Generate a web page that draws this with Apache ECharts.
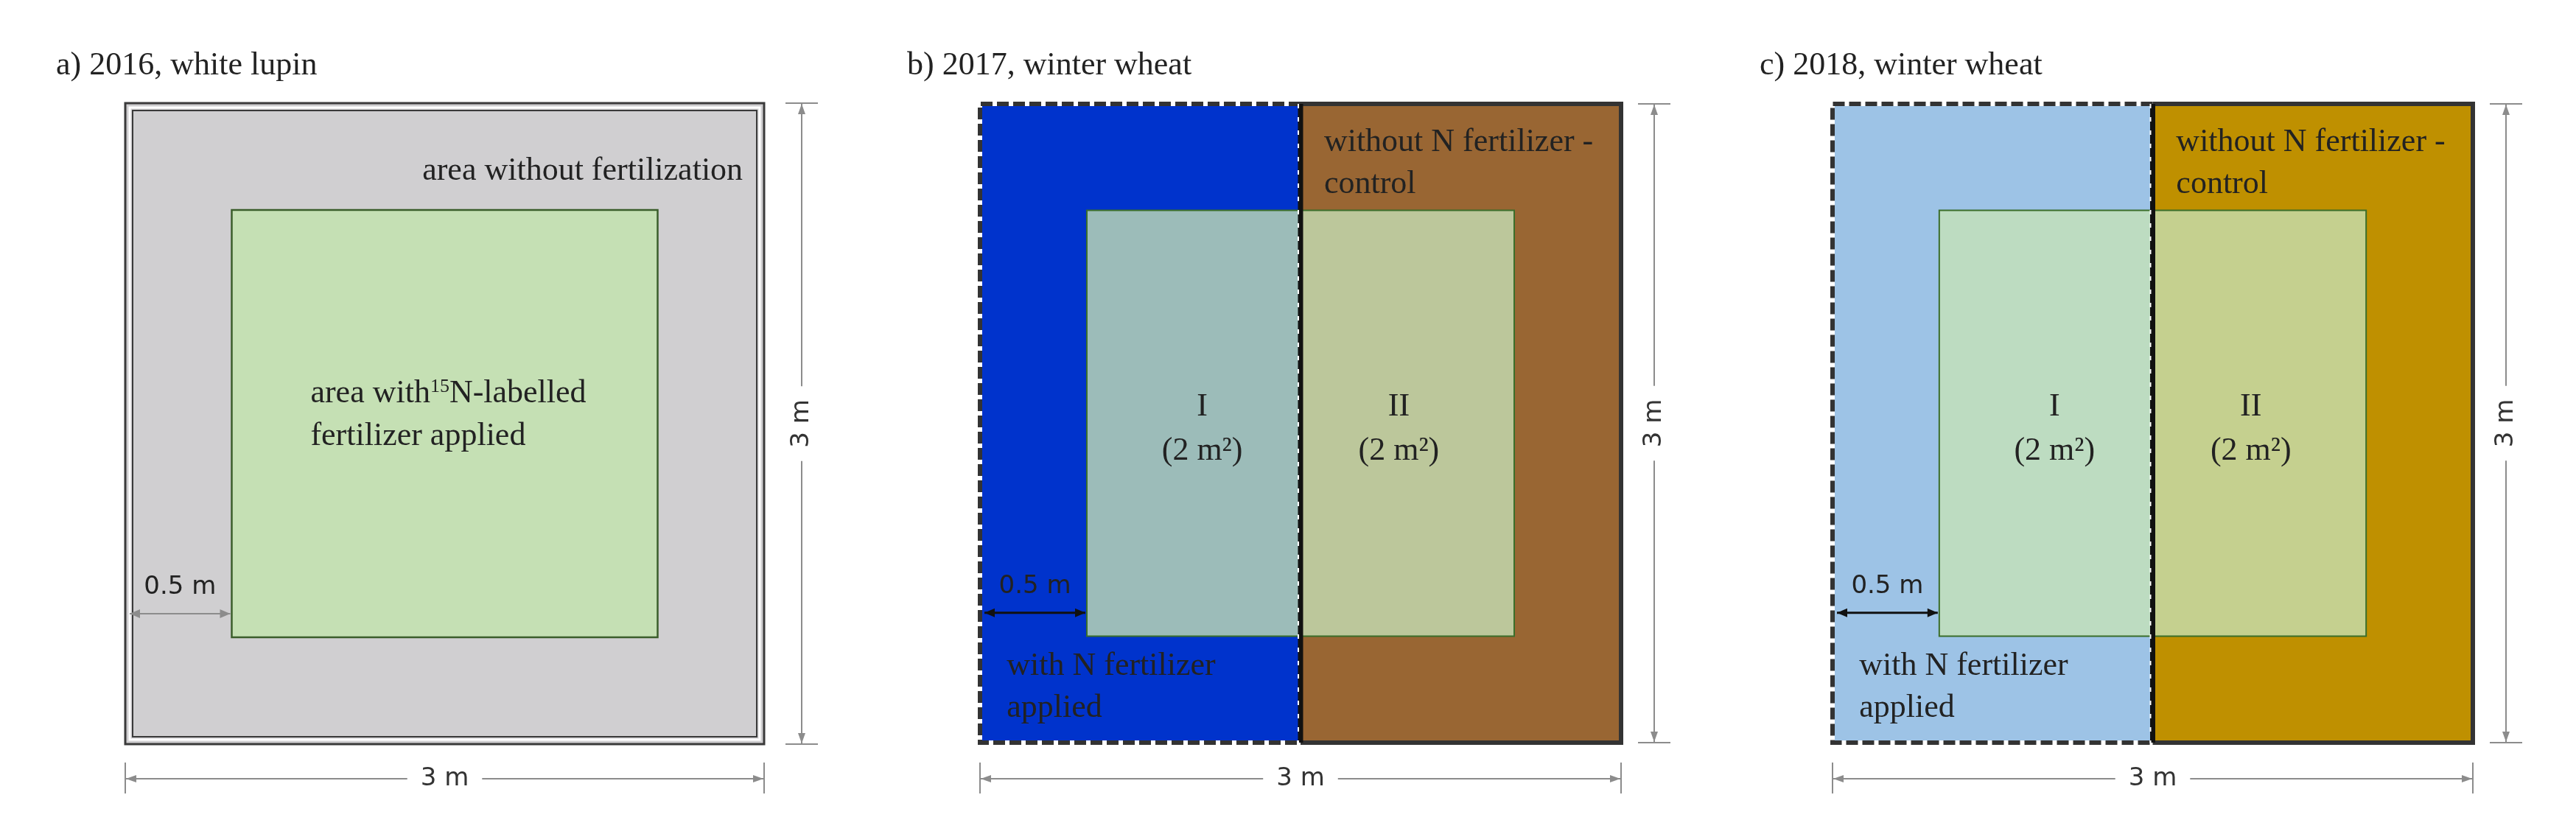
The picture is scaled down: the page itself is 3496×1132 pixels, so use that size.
<!DOCTYPE html>
<html><head><meta charset="utf-8">
<script src="https://cdn.jsdelivr.net/npm/echarts@6/dist/echarts.min.js"></script>
<style>html,body{margin:0;background:#fff}#c{width:3496px;height:1132px}</style>
</head><body><div id="c"></div>
<script>
// plot extents in metres
const plotSize = [0, 3];
const innerPlot = [0.5, 0.5, 2.5, 2.5];
const halfSplit = 1.5;
const titles = ['a) 2016, white lupin', 'b) 2017, winter wheat', 'c) 2018, winter wheat'];
const subplotNames = ['I', 'II'];
const subplotArea = '(2 m²)';
const edgeLabel = '0.5 m';
const dimLabel = '3 m';
const panelColors = [
  {outer:'#d0cfd1', inner:'#c5e0b4'},
  {left:'#0033cc', right:'#996633', I:'#9cbcb9', II:'#bcc79b'},
  {left:'#9dc3e6', right:'#bf9000', I:'#bddcc1', II:'#c5d08f'}
];
const grids = [
  {left:170, top:140, width:867, height:870, dimX:1088},
  {left:1330, top:141, width:870, height:867, dimX:2245},
  {left:2487, top:141, width:869, height:867, dimX:3401}
];
const titleX = [71, 1226, 2383];
const FS = 44;

const chart = echarts.init(document.getElementById('c'));
const serif = 'Liberation Serif';
function txt(api, x, y, s, align, size, extra) {
  const p = api.coord([x, y]);
  return {type:'text', x:p[0], y:p[1], style:Object.assign({text:s, fill:'#222', font:(size||FS)+'px "'+serif+'"', align:align||'left', verticalAlign:'middle'}, extra||{}), z2:20};
}
function rect(api, x0, y0, x1, y1, style) {
  const a = api.coord([x0, y1]), b = api.coord([x1, y0]);
  return {type:'rect', shape:{x:a[0], y:a[1], width:b[0]-a[0], height:b[1]-a[1]}, style:style};
}
function line(api, x0, y0, x1, y1, style, z) {
  const a = api.coord([x0, y0]), b = api.coord([x1, y1]);
  return {type:'line', shape:{x1:a[0], y1:a[1], x2:b[0], y2:b[1]}, style:style, z2:z||5};
}
function arrowHead(x, y, dir, col, len, w) {
  let pts;
  if (dir==='l') pts=[[x,y],[x+len,y-w],[x+len,y+w]];
  if (dir==='r') pts=[[x,y],[x-len,y-w],[x-len,y+w]];
  if (dir==='u') pts=[[x,y],[x-w,y+len],[x+w,y+len]];
  if (dir==='d') pts=[[x,y],[x-w,y-len],[x+w,y-len]];
  return {type:'polygon', shape:{points:pts}, style:{fill:col}, z2:6};
}
const dimCol = '#8c8c8c';
function dims(api, gi, elems) {
  const g = grids[gi];
  const L = api.coord([0,0]), R = api.coord([3,3]);
  const yH = 1057;
  const ds = {stroke:dimCol, lineWidth:2};
  elems.push({type:'line', shape:{x1:L[0], y1:yH, x2:R[0], y2:yH}, style:ds});
  elems.push({type:'line', shape:{x1:L[0], y1:yH-22, x2:L[0], y2:yH+20}, style:ds});
  elems.push({type:'line', shape:{x1:R[0], y1:yH-22, x2:R[0], y2:yH+20}, style:ds});
  elems.push(arrowHead(L[0]+1, yH, 'l', dimCol, 14, 5));
  elems.push(arrowHead(R[0]-1, yH, 'r', dimCol, 14, 5));
  elems.push({type:'text', x:(L[0]+R[0])/2, y:yH, style:{text:dimLabel, font:'34px "DejaVu Sans"', fill:'#333', align:'center', verticalAlign:'middle', backgroundColor:'#fff', padding:[0,18]}, z2:10});
  const x = g.dimX;
  elems.push({type:'line', shape:{x1:x, y1:R[1], x2:x, y2:L[1]}, style:ds});
  elems.push({type:'line', shape:{x1:x-22, y1:R[1], x2:x+22, y2:R[1]}, style:ds});
  elems.push({type:'line', shape:{x1:x-22, y1:L[1], x2:x+22, y2:L[1]}, style:ds});
  elems.push(arrowHead(x, R[1]+1, 'u', dimCol, 14, 5));
  elems.push(arrowHead(x, L[1]-1, 'd', dimCol, 14, 5));
  elems.push({type:'text', x:x, y:(L[1]+R[1])/2, rotation:Math.PI/2, style:{text:dimLabel, font:'34px "DejaVu Sans"', fill:'#333', align:'center', verticalAlign:'middle', backgroundColor:'#fff', padding:[0,18]}, z2:10});
  const yE = 0.61;
  const a = api.coord([0, yE]), b = api.coord([innerPlot[0], yE]);
  const ec = gi===0 ? dimCol : '#111';
  elems.push({type:'line', shape:{x1:a[0]+6, y1:a[1], x2:b[0]-2, y2:a[1]}, style:{stroke:ec, lineWidth:gi===0?2:3}, z2:8});
  elems.push(arrowHead(a[0]+6, a[1], 'l', ec, 14, 6));
  elems.push(arrowHead(b[0]-2, a[1], 'r', ec, 14, 6));
  elems.push({type:'text', x:(a[0]+b[0])/2+2, y:a[1]-36, style:{text:edgeLabel, font:'34px "DejaVu Sans"', fill:'#222', align:'center', verticalAlign:'middle'}, z2:10});
}
function renderA(params, api) {
  const e = [], c = panelColors[0];
  e.push(rect(api, 0, 0, 3, 3, {fill:c.outer, stroke:'#3a3a3a', lineWidth:3}));
  const a = api.coord([0,3]), b = api.coord([3,0]);
  e.push({type:'rect', shape:{x:a[0]+6, y:a[1]+6, width:b[0]-a[0]-12, height:b[1]-a[1]-12}, style:{fill:'none', stroke:'#fff', lineWidth:3}});
  e.push({type:'rect', shape:{x:a[0]+10, y:a[1]+10, width:b[0]-a[0]-20, height:b[1]-a[1]-20}, style:{fill:'none', stroke:'#3a3a3a', lineWidth:2}});
  e.push(rect(api, innerPlot[0], innerPlot[1], innerPlot[2], innerPlot[3], {fill:c.inner, stroke:'#3b5e2b', lineWidth:2.5}));
  e.push(txt(api, 2.9, 2.68, 'area without fertilization', 'right'));
  const p = api.coord([0.87, 1.64]);
  e.push({type:'text', x:p[0], y:p[1], style:{text:'area with{s|15}N-labelled', font:FS+'px "'+serif+'"', fill:'#222', verticalAlign:'middle', rich:{s:{fontSize:26, fontFamily:serif, fill:'#222', verticalAlign:'top', padding:[0,0,16,0]}}}, z2:20});
  e.push(txt(api, 0.87, 1.44, 'fertilizer applied', 'left'));
  dims(api, 0, e);
  return {type:'group', children:e};
}
function renderBC(gi) {
  return function(params, api) {
    const e = [], c = panelColors[gi];
    e.push(rect(api, halfSplit, 0, 3, 3, {fill:c.right, stroke:'#333', lineWidth:6}));
    e.push(rect(api, 0, 0, halfSplit, 3, {fill:c.left, stroke:'none'}));
    const lt = api.coord([0,3]), rb = api.coord([halfSplit,0]);
    const pts = [[rb[0],lt[1]],[lt[0],lt[1]],[lt[0],rb[1]],[rb[0],rb[1]]];
    e.push({type:'polyline', shape:{points:pts}, style:{fill:'none', stroke:'#fff', lineWidth:6}, z2:3});
    e.push({type:'polyline', shape:{points:pts}, style:{fill:'none', stroke:'#333', lineWidth:6, lineDash:[16,6]}, z2:4});
    const gs = {stroke:'#3b6e2a', lineWidth:2};
    e.push(rect(api, innerPlot[0], innerPlot[1], halfSplit, innerPlot[3], Object.assign({fill:c.I}, gs)));
    e.push(rect(api, halfSplit, innerPlot[1], innerPlot[2], innerPlot[3], Object.assign({fill:c.II}, gs)));
    e.push(line(api, halfSplit, 0, halfSplit, 3, {stroke:'#111', lineWidth:7}, 6));
    const d = api.coord([halfSplit,0]);
    e.push({type:'line', shape:{x1:d[0]-3, y1:lt[1], x2:d[0]-3, y2:d[1]}, style:{stroke:'#fff', lineWidth:2, lineDash:[6,12]}, z2:7});
    e.push(txt(api, 1.61, 2.82, 'without N fertilizer -', 'left'));
    e.push(txt(api, 1.61, 2.62, 'control', 'left'));
    e.push(txt(api, 1.04, 1.575, subplotNames[0], 'center'));
    e.push(txt(api, 1.04, 1.37, subplotArea, 'center'));
    e.push(txt(api, 1.96, 1.575, subplotNames[1], 'center'));
    e.push(txt(api, 1.96, 1.37, subplotArea, 'center'));
    e.push(txt(api, 0.125, 0.36, 'with N fertilizer', 'left'));
    e.push(txt(api, 0.125, 0.16, 'applied', 'left'));
    dims(api, gi, e);
    return {type:'group', children:e};
  };
}
const axisBase = {type:'value', min:plotSize[0], max:plotSize[1], show:false};
chart.setOption({
  backgroundColor:'#fff',
  animation:false,
  title: titles.map((t,i)=>({text:t, left:titleX[i], top:62, textStyle:{fontFamily:serif, fontSize:FS, fontWeight:'normal', color:'#222'}})),
  grid: grids.map(g=>({left:g.left, top:g.top, width:g.width, height:g.height})),
  xAxis: grids.map((g,i)=>Object.assign({gridIndex:i}, axisBase)),
  yAxis: grids.map((g,i)=>Object.assign({gridIndex:i}, axisBase)),
  series: [0,1,2].map(i=>({type:'custom', xAxisIndex:i, yAxisIndex:i, clip:false, data:[[0,0]], renderItem: i===0?renderA:renderBC(i)}))
});
</script></body></html>
